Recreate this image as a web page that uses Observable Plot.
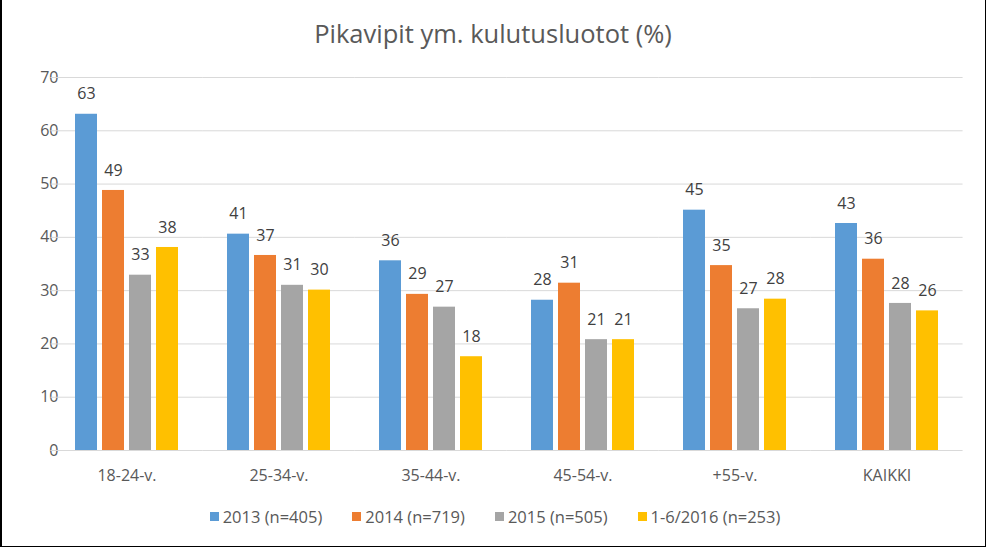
<!DOCTYPE html>
<html>
<head>
<meta charset="utf-8">
<script src="https://cdn.jsdelivr.net/npm/d3@7"></script>
<script src="https://cdn.jsdelivr.net/npm/@observablehq/plot@0.6"></script>
<style>
  html, body { margin: 0; padding: 0; background: white; }
  #wrap { position: relative; width: 986px; height: 547px; background: white; font-family: "Open Sans", sans-serif; overflow: hidden; }
  #border { position: absolute; left: 0; top: 0; right: 0; bottom: 0; border-left: 2px solid #000; border-right: 1px solid #000; border-bottom: 1px solid #000; pointer-events: none; }
  #title { height: 34px; padding-top: 16px; line-height: 34px; text-align: center; font-size: 25.5px; color: #595959; }
  #legend { display: flex; justify-content: center; align-items: center; margin-top: 11px; height: 22px; line-height: 22px; font-size: 16.5px; color: #595959; padding-left: 4px; }
  .item { display: flex; align-items: center; margin: 0 15px; }
  .sw { width: 9px; height: 9px; margin-right: 4px; margin-top: -2px; }
  svg { display: block; }
</style>
</head>
<body>
<div id="wrap">
  <div id="title">Pikavipit ym. kulutusluotot (%)</div>
  <div id="chart"></div>
  <div id="legend"></div>
  <div id="border"></div>
</div>
<script>
const groups = ["18-24-v.", "25-34-v.", "35-44-v.", "45-54-v.", "+55-v.", "KAIKKI"];
const series = ["2013 (n=405)", "2014 (n=719)", "2015 (n=505)", "1-6/2016 (n=253)"];
const colors = ["#5B9BD5", "#ED7D31", "#A5A5A5", "#FFC000"];
const v2013 = [63.1, 40.6, 35.6, 28.2, 45.1, 42.6];
const v2014 = [48.8, 36.6, 29.3, 31.4, 34.7, 35.9];
const v2015 = [32.9, 31.0, 26.9, 20.8, 26.6, 27.6];
const v2016 = [38.1, 30.1, 17.6, 20.8, 28.4, 26.2];
const yTicks = [0, 10, 20, 30, 40, 50, 60, 70];

const valuesBySeries = [v2013, v2014, v2015, v2016];
const rows = [];
groups.forEach((g, i) => {
  series.forEach((s, j) => {
    rows.push({group: g, series: s, value: valuesBySeries[j][i]});
  });
});

const W = 986, H = 445, mL = 50, mR = 23, mT = 27, mB = 45;
const padInner = 0.31, padOuter = 0.155;
// extend gridlines across the facet gaps (computed from band scale config)
const step = (W - mL - mR) / (groups.length - padInner + 2 * padOuter);
const ext = padOuter * step;

const chart = Plot.plot({
  width: W,
  height: H,
  marginLeft: mL,
  marginRight: mR,
  marginTop: mT,
  marginBottom: mB,
  style: {fontFamily: "Open Sans", fontSize: "16px", color: "#595959", background: "white"},
  facet: {data: rows, x: "group"},
  fx: {domain: groups, paddingInner: padInner, paddingOuter: padOuter, axis: "bottom", tickSize: 0, tickPadding: 19, label: null},
  x: {domain: series, axis: null, paddingInner: 0.2, paddingOuter: 0},
  y: {domain: [0, 70], ticks: yTicks, tickSize: 0, tickPadding: 16, label: null},
  color: {domain: series, range: colors},
  marks: [
    Plot.ruleY(yTicks, {stroke: "#d9d9d9", strokeWidth: 1, insetLeft: -ext, insetRight: -ext}),
    Plot.barY(rows, {x: "series", y: "value", fill: "series"}),
    Plot.text(rows, {x: "series", y: "value", text: d => String(Math.round(d.value)), dy: -20, fill: "#404040", fontSize: 16})
  ]
});
document.getElementById("chart").appendChild(chart);

const legend = document.getElementById("legend");
series.forEach((s, j) => {
  const it = document.createElement("div");
  it.className = "item";
  const sw = document.createElement("span");
  sw.className = "sw";
  sw.style.background = colors[j];
  const tx = document.createElement("span");
  tx.textContent = s;
  it.appendChild(sw);
  it.appendChild(tx);
  legend.appendChild(it);
});
</script>
</body>
</html>
